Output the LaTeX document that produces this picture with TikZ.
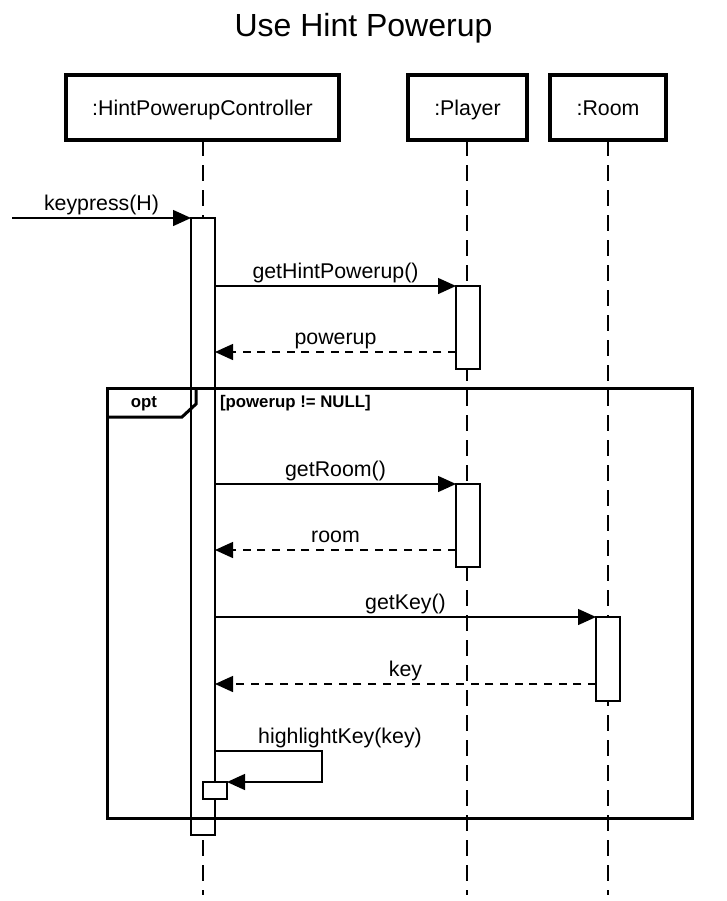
\documentclass[tikz,border=0pt]{standalone}
\usepackage{fontspec}
\setmainfont{Liberation Sans}
\usetikzlibrary{arrows.meta}

\begin{document}
\begin{tikzpicture}[x=0.75pt, y=-0.75pt,
  every node/.style={inner sep=0pt, outer sep=0pt},
  headbox/.style={draw, line width=2.5pt, fill=white, minimum height=48.75pt,
    text height=12.6pt, text depth=1pt,
    font=\fontsize{16pt}{19pt}\selectfont},
  lifeline/.style={line width=1.5pt, dash pattern=on 12pt off 6.75pt},
  actbar/.style={draw, line width=1.1pt, fill=white, minimum width=18pt},
  msg/.style={line width=1pt, -{Triangle[length=13.5pt, width=12pt]}},
  reply/.style={msg, dash pattern=on 6pt off 5pt},
  lbl/.style={font=\fontsize{16pt}{19pt}\selectfont, anchor=base, yshift=6pt},
  frame/.style={draw, line width=2.25pt},
  guard/.style={font=\fontsize{12.6pt}{15pt}\selectfont\bfseries, anchor=base}
]
\useasboundingbox (0,0) rectangle (727,901);

% title
\node[font=\fontsize{24pt}{28pt}\selectfont, anchor=base] (title) at (363.5,36) {Use Hint Powerup};

% participants
\node[headbox, minimum width=204.75pt] (ctrl) at (202.5,107.5) {:HintPowerupController};
\node[headbox, minimum width=89.25pt] (player) at (467.5,107.5) {:Player};
\node[headbox, minimum width=87pt] (room) at (608,107.5) {:Room};

% lifelines
\draw[lifeline] (203,140) -- (203,895);
\draw[lifeline] (467,140) -- (467,895);
\draw[lifeline] (608,140) -- (608,895);

% activations
\node[actbar, minimum height=462.75pt] (ctrlbar) at (203,526.5) {};
\node[actbar, minimum height=62.25pt] (pact1) at (468,327.5) {};
\node[actbar, minimum height=62.25pt] (pact2) at (468,525.5) {};
\node[actbar, minimum height=63pt] (ract) at (608,659) {};
\node[actbar, minimum height=12.75pt] (selfbar) at (215,790.5) {};

% opt fragment
\node[frame, minimum width=438.75pt, minimum height=322.5pt] (opt) at (399.5,603) {};
\draw[line width=2.25pt, line join=miter] (opt.north west) ++(89,0) -- ++(0,16) -- ++(-14,13) -- (opt.north west |- 0,417);
\node[guard] (optlbl) at (144,407) {opt};
\node[guard, anchor=base west] (guardlbl) at (220,407) {[powerup != NULL]};

% messages
\coordinate (src) at (12,218);
\draw[msg] (src) -- (ctrlbar.north west) node[lbl, midway] (m0) {keypress(H)};

\draw[msg] (ctrlbar.east |- pact1.north) -- (pact1.north west) node[lbl, midway] (m1) {getHintPowerup()};
\coordinate (r1) at (0,352);
\draw[reply] (pact1.west |- r1) -- (ctrlbar.east |- r1) node[lbl, midway] (m2) {powerup};

\draw[msg] (ctrlbar.east |- pact2.north) -- (pact2.north west) node[lbl, midway] (m3) {getRoom()};
\coordinate (r2) at (0,550);
\draw[reply] (pact2.west |- r2) -- (ctrlbar.east |- r2) node[lbl, midway] (m4) {room};

\draw[msg] (ctrlbar.east |- ract.north) -- (ract.north west) node[lbl, midway] (m5) {getKey()};
\coordinate (r3) at (0,684);
\draw[reply] (ract.west |- r3) -- (ctrlbar.east |- r3) node[lbl, midway] (m6) {key};

% self call
\coordinate (s1) at (0,751);
\coordinate (turn) at (322,751);
\draw[msg] (ctrlbar.east |- s1) -- (turn) |- (selfbar.north east);
\node[lbl] (m7) at (340,751) {highlightKey(key)};
\end{tikzpicture}
\end{document}
